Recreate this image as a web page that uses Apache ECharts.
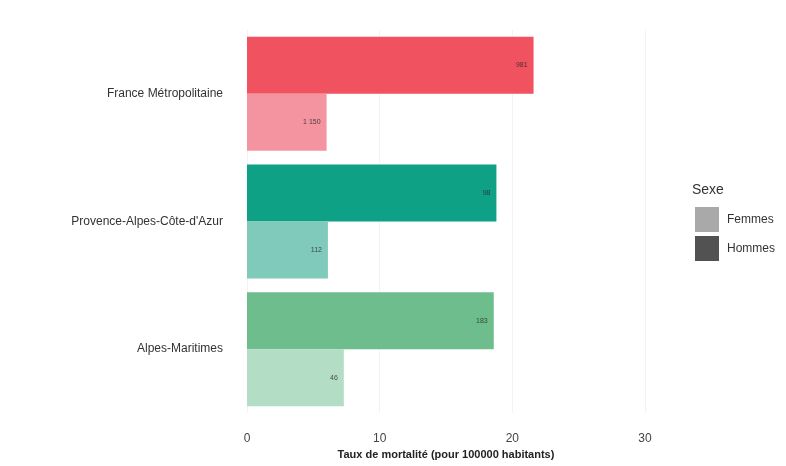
<!DOCTYPE html>
<html><head><meta charset="utf-8">
<script src="https://cdn.jsdelivr.net/npm/echarts@6/dist/echarts.min.js"></script>
<style>html,body{margin:0;padding:0;background:#fff}#c{width:786px;height:466px}</style>
</head><body><div id="c"></div>
<script>
const categories = ["France Métropolitaine", "Provence-Alpes-Côte-d'Azur", "Alpes-Maritimes"];
const hommes = [21.6, 18.8, 18.6];
const femmes = [6.0, 6.1, 7.3];
const hommesLabels = ["981", "98", "183"];
const femmesLabels = ["1 150", "112", "46"];
const hommesColors = ["#F0525F", "#0EA186", "#6DBE8C"];
const femmesColors = ["#F494A0", "#80CABC", "#B3DEC5"];
const xTicks = [0, 10, 20, 30];

const chart = echarts.init(document.getElementById('c'));
const lbl = (arr) => ({
  show: true, position: 'insideRight', distance: 6,
  fontSize: 7, color: 'rgba(40,40,40,0.8)', fontFamily: 'Liberation Sans',
  formatter: (p) => arr[p.dataIndex]
});
chart.setOption({
  animation: false,
  backgroundColor: '#fff',
  title: { text: 'Sexe', left: 692, top: 183, padding: 0, textStyle: { fontSize: 14, fontWeight: 'normal', color: '#333', fontFamily: 'Liberation Sans' } },
  legend: {
    orient: 'vertical', left: 695, top: 207, padding: 0, itemWidth: 24, itemHeight: 25, itemGap: 4,
    icon: 'rect', data: ['Femmes', 'Hommes'],
    textStyle: { fontSize: 12, color: '#333', fontFamily: 'Liberation Sans', padding: [0, 0, 0, 3] }
  },
  grid: { left: 247, top: 30, width: 398, height: 383, containLabel: false },
  xAxis: {
    type: 'value', min: xTicks[0], max: xTicks[xTicks.length - 1], interval: 10,
    name: 'Taux de mortalité (pour 100000 habitants)', nameLocation: 'middle', nameGap: 36,
    nameTextStyle: { fontSize: 11, fontWeight: 'bold', color: '#222', fontFamily: 'Liberation Sans' },
    axisLine: { show: false }, axisTick: { show: false },
    axisLabel: { fontSize: 12, color: '#444', margin: 20, fontFamily: 'Liberation Sans' },
    splitLine: { show: true, lineStyle: { color: '#f3f3f3' } }
  },
  yAxis: {
    type: 'category', data: categories, inverse: true,
    axisLine: { show: false }, axisTick: { show: false },
    axisLabel: { fontSize: 12, color: '#333', margin: 24, fontFamily: 'Liberation Sans' }
  },
  series: [
    { name: 'Hommes', type: 'bar', barWidth: 57, barGap: '0%',
      itemStyle: { color: '#525252' },
      data: hommes.map((v, i) => ({ value: v, itemStyle: { color: hommesColors[i] } })),
      label: lbl(hommesLabels) },
    { name: 'Femmes', type: 'bar', barWidth: 57, barGap: '0%',
      itemStyle: { color: '#a9a9a9' },
      data: femmes.map((v, i) => ({ value: v, itemStyle: { color: femmesColors[i] } })),
      label: lbl(femmesLabels) }
  ]
});
</script></body></html>
